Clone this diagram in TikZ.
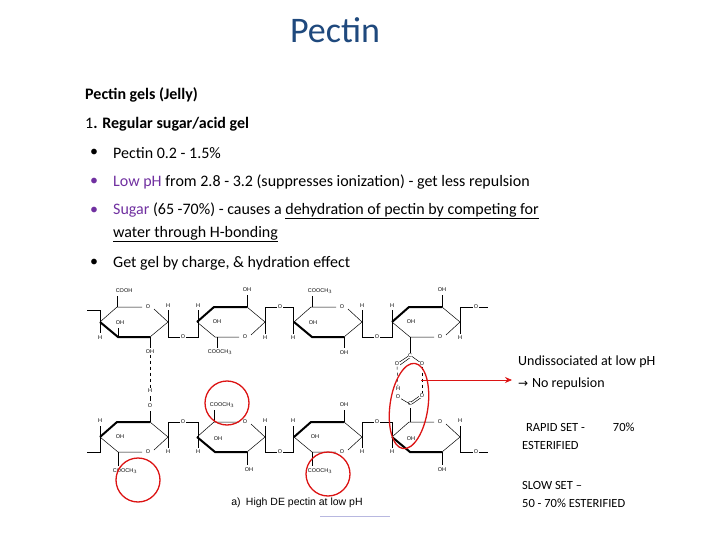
\documentclass[tikz,border=0pt]{standalone}
\usepackage{fontspec}
\setmainfont{Carlito}
\setsansfont{Liberation Sans}
\usetikzlibrary{arrows.meta}
\definecolor{titleblue}{RGB}{31,73,125}
\definecolor{purp}{RGB}{112,48,160}
\definecolor{ringred}{RGB}{220,20,20}
\begin{document}
\begin{tikzpicture}[x=1pt,y=-1pt,
  body/.style={anchor=west,inner sep=0pt,font=\fontsize{16}{19}\selectfont},
  side/.style={anchor=west,inner sep=0pt,font=\fontsize{14}{17}\selectfont},
  lab/.style={inner sep=0.5pt,font=\sffamily\fontsize{5.5}{5.5}\selectfont,fill=white},
  bond/.style={line width=0.5pt},
  thick bond/.style={line width=2pt},
  redc/.style={draw=ringred,line width=1.3pt}]
\useasboundingbox (0,0) rectangle (720,540);
\node (title) at (335,30) {\color{titleblue}\fontsize{36}{40}\selectfont Pectin};
\node[body] (l1) at (85,95) {\textbf{Pectin gels (Jelly)}};
\node[body] (l2) at (85,124) {1\textbf{. Regular sugar/acid gel}};
\node[body] (b1) at (90,153) {•}; \node[body] (t1) at (113,153) {Pectin 0.2 - 1.5\%};
\node[body] (b2) at (90,182) {\color{purp}•}; \node[body] (t2) at (113,182) {{\color{purp}Low pH} from 2.8 - 3.2 (suppresses ionization) - get less repulsion};
\node[body] (b3) at (90,211) {\color{purp}•}; \node[body] (t3) at (113,211) {{\color{purp}Sugar} (65 -70\%) - causes a \underline{dehydration of pectin by competing for}};
\node[body] (t3b) at (113,234) {\underline{water through H-bonding}};
\node[body] (b4) at (90,263) {•}; \node[body] (t4) at (113,263) {Get gel by charge, \& hydration effect};
\newcommand{\ringA}[2]{%
 \draw[bond] (#1-34,#2)--(#1-17,#2-15)--(#1+8,#2-15);
 \draw[bond] (#1+20,#2-13)--(#1+34,#2)--(#1+16,#2+15);
 \draw[thick bond] (#1+16,#2+15)--(#1-16,#2+15)--(#1-34,#2);
 \node[lab] at (#1+14,#2-15) {O};}
\newcommand{\ringB}[2]{%
 \draw[bond] (#1-34,#2)--(#1-16,#2+15)--(#1+8,#2+15);
 \draw[bond] (#1+20,#2+13)--(#1+34,#2)--(#1+16,#2-15);
 \draw[thick bond] (#1+16,#2-15)--(#1-17,#2-15)--(#1-34,#2);
 \node[lab] at (#1+14,#2+15) {O};}
% top row
\ringA{134}{322}\ringB{231}{322}\ringA{328}{322}\ringB{426}{322}
\draw[bond] (87,310)--(100,310)--(100,333);
\node[lab] (h1) at (100,338) {H};
\draw[bond] (117,307)--(117,296); \node[lab] (c1) at (124,291) {COOH};
\draw[bond] (118,337)--(118,328); \node[lab] at (120,323) {OH};
\draw[bond] (150,337)--(150,348); \node[lab] (oh1) at (150,352) {OH};
\draw[bond] (168,322)--(168,310); \node[lab] at (168,306) {H};
\draw[bond] (168,322)--(168,337)--(198,337)--(198,322); \node[lab] at (183,337) {O};
\draw[bond] (198,322)--(198,310); \node[lab] at (198,306) {H};
\node[lab] at (217,322) {OH};
\draw[bond] (247,307)--(247,295); \node[lab] at (247,290) {OH};
\draw[bond] (217,337)--(217,348); \node[lab] at (220,352) {COOCH$_3$};
\draw[bond] (265,322)--(265,334); \node[lab] at (265,338) {H};
\draw[bond] (265,322)--(265,307)--(293,307)--(293,322); \node[lab] at (280,307) {O};
\draw[bond] (293,322)--(293,334); \node[lab] at (293,338) {H};
\draw[bond] (312,307)--(312,296); \node[lab] at (320,291) {COOCH$_3$};
\node[lab] at (313,323) {OH};
\draw[bond] (344,337)--(344,348); \node[lab] at (344,353) {OH};
\draw[bond] (362,322)--(362,310); \node[lab] at (362,306) {H};
\draw[bond] (362,322)--(362,337)--(392,337)--(392,322); \node[lab] at (377,337) {O};
\draw[bond] (392,322)--(392,310); \node[lab] at (392,306) {H};
\node[lab] at (411,322) {OH};
\draw[bond] (442,307)--(442,295); \node[lab] at (442,290) {OH};
\draw[bond] (460,322)--(460,334); \node[lab] at (460,338) {H};
\draw[bond] (460,322)--(460,307)--(488,307); \node[lab] at (476,307) {O};
\draw[bond] (410,337)--(410,353);
\draw[bond] (410,355)--(398,363); \draw[bond] (411,357)--(400,365);
\draw[bond] (410,355)--(421,363);
\node[lab] (tc) at (410,356) {C};
\node[lab] (to1) at (397,364) {O}; \node[lab] (to2) at (422,364) {O};
% bottom row
\ringB{134}{437}\ringA{231}{437}\ringB{328}{437}\ringA{426}{437}
\draw[bond] (87,452)--(100,452)--(100,426); \node[lab] at (100,421) {H};
\node[lab] at (120,437) {OH};
\draw[bond] (150,422)--(150,411); \node[lab] (o1) at (150,406) {O};
\node[lab] (hb1) at (150,391) {H};
\draw[bond] (150,401)--(150,396);
\draw[bond,dashed] (oh1)--(hb1);
\draw[bond] (118,452)--(118,466); \node[lab] at (125,471) {COOCH$_3$};
\draw[bond] (168,437)--(168,448); \node[lab] at (168,452) {H};
\draw[bond] (168,437)--(168,422)--(198,422)--(198,437); \node[lab] at (183,422) {O};
\draw[bond] (198,437)--(198,448); \node[lab] at (198,452) {H};
\draw[bond] (214,422)--(214,410); \node[lab] at (222,405) {COOCH$_3$};
\node[lab] at (218,439) {OH};
\draw[bond] (247,452)--(247,465); \node[lab] at (249,470) {OH};
\draw[bond] (265,437)--(265,426); \node[lab] at (265,421) {H};
\draw[bond] (265,437)--(265,452)--(293,452)--(293,437); \node[lab] at (280,452) {O};
\draw[bond] (293,437)--(293,426); \node[lab] at (293,421) {H};
\node[lab] at (315,437) {OH};
\draw[bond] (344,422)--(344,410); \node[lab] at (344,405) {OH};
\draw[bond] (312,452)--(312,466); \node[lab] at (320,471) {COOCH$_3$};
\draw[bond] (362,437)--(362,448); \node[lab] at (362,452) {H};
\draw[bond] (362,437)--(362,422)--(392,422)--(392,437); \node[lab] at (377,422) {O};
\draw[bond] (392,437)--(392,448); \node[lab] at (392,452) {H};
\draw[bond] (410,422)--(410,408);
\node[lab] (bc) at (410,404) {C};
\draw[bond] (410,404)--(398,397); \draw[bond] (411,402)--(421,395); \draw[bond] (412,404)--(422,397);
\node[lab] (bo1) at (398,397) {O}; \node[lab] (bo2) at (422,396) {O};
\node[lab] (bh) at (398,389) {H};
\draw[bond,dashed] (to1)--(bh);
\draw[bond,dashed] (to2)--(bo2);
\node[lab] at (411,439) {OH};
\draw[bond] (442,452)--(442,465); \node[lab] at (442,470) {OH};
\draw[bond] (460,437)--(460,426); \node[lab] at (460,421) {H};
\draw[bond] (460,437)--(460,452)--(488,452); \node[lab] at (476,452) {O};
% caption
\node (cap) at (297,503) {\sffamily\fontsize{10.5}{12}\selectfont a)\enspace High DE pectin at low pH};
\draw[color=gray!60!blue!40,line width=1pt] (320,516)--(390,516);
% red marks
\draw[redc] (138,480) circle (22);
\draw[redc] (227,403) circle (22);
\draw[redc] (328,474) circle (22);
\draw[redc,rotate around={-8:(409,406)}] (409,406) ellipse (19 and 43);
\coordinate (arrs) at (421,380);
\node[side] (u1) at (518,362) {Undissociated at low pH};
\node[side] (u2) at (518,384) {\fontspec{DejaVu Sans}\fontsize{12}{14}\selectfont→\ \fontspec{Carlito}\fontsize{14}{17}\selectfont No repulsion};
\draw[ringred,line width=0.8pt,-{Stealth[length=7pt,width=6pt]}] (arrs)--(512,380);
\node[side,font=\fontsize{12.5}{15}\selectfont] (r1) at (526,427) {RAPID SET -\hspace{28pt}70\%};
\node[side,font=\fontsize{12.5}{15}\selectfont] (r2) at (522,445) {ESTERIFIED};
\node[side,font=\fontsize{12.5}{15}\selectfont] (s1) at (522,485) {SLOW SET --};
\node[side,font=\fontsize{12.5}{15}\selectfont] (s2) at (522,503) {50 - 70\% ESTERIFIED};
\end{tikzpicture}
\end{document}
